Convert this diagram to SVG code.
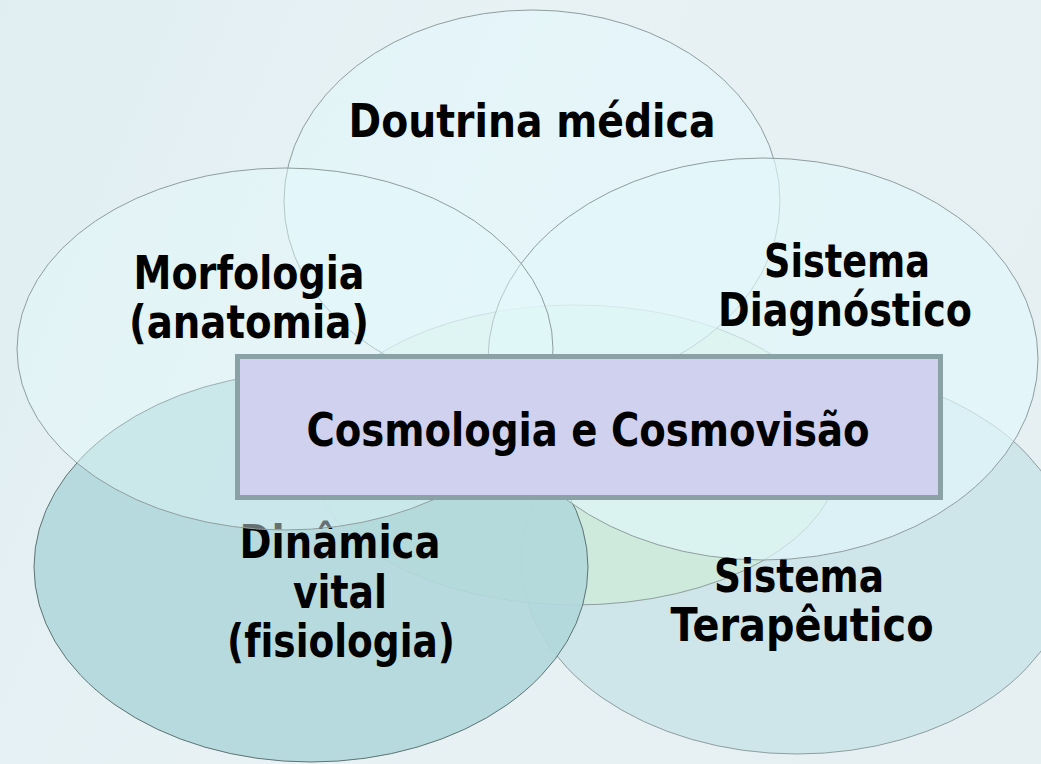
<svg xmlns="http://www.w3.org/2000/svg" width="1041" height="764" viewBox="0 0 1041 764">
<defs>
<linearGradient id="bg" x1="0" y1="0" x2="1" y2="0.3">
<stop offset="0" stop-color="#e0eef1"/>
<stop offset="0.5" stop-color="#e8f2f5"/>
<stop offset="1" stop-color="#e6f0f3"/>
</linearGradient>
</defs>
<style>
.lbl{font-family:"DejaVu Sans","Liberation Sans",sans-serif;font-weight:bold;font-size:46px;fill:#000;text-anchor:middle;font-variant-ligatures:none;font-feature-settings:"liga" 0}
.ell{stroke:#8e9e9f;stroke-width:1}
.light{fill:#e2f8fb}
</style>
<rect x="0" y="0" width="1041" height="764" fill="url(#bg)"/>
<g id="terapeutico">
<ellipse class="ell" cx="797" cy="561" rx="276" ry="193" fill="#c9e3e7" fill-opacity="0.85"/>
</g>
<g id="center-ellipse">
<ellipse class="ell" cx="575" cy="455" rx="265" ry="150" fill="#cdedd6" fill-opacity="0.7"/>
</g>
<g id="dinamica">
<ellipse cx="311" cy="567" rx="277" ry="195" fill="#b2d8db" fill-opacity="0.92" stroke="#5f7373" stroke-width="1"/>
<text class="lbl" x="340" y="558" textLength="201" lengthAdjust="spacingAndGlyphs">Dinâmica</text>
<text class="lbl" x="340" y="608" textLength="94" lengthAdjust="spacingAndGlyphs">vital</text>
<text class="lbl" x="341" y="657" textLength="228" lengthAdjust="spacingAndGlyphs">(fisiologia)</text>
</g>
<g id="doutrina">
<ellipse class="ell light" cx="532" cy="201" rx="248" ry="191" fill-opacity="0.5"/>
<text class="lbl" x="532" y="137" textLength="367" lengthAdjust="spacingAndGlyphs">Doutrina médica</text>
</g>
<g id="diagnostico">
<ellipse class="ell light" cx="763" cy="359" rx="275" ry="201" fill-opacity="0.65"/>
<text class="lbl" x="847" y="277" textLength="166" lengthAdjust="spacingAndGlyphs">Sistema</text>
<text class="lbl" x="845" y="326" textLength="254" lengthAdjust="spacingAndGlyphs">Diagnóstico</text>
</g>
<g id="morfologia">
<ellipse class="ell light" cx="285" cy="349" rx="268" ry="181" fill-opacity="0.45"/>
<text class="lbl" x="249" y="289" textLength="231" lengthAdjust="spacingAndGlyphs">Morfologia</text>
<text class="lbl" x="249" y="338" textLength="240" lengthAdjust="spacingAndGlyphs">(anatomia)</text>
</g>
<g id="terapeutico-label">
<text class="lbl" x="799" y="592" textLength="170" lengthAdjust="spacingAndGlyphs">Sistema</text>
<text class="lbl" x="802" y="641" textLength="263" lengthAdjust="spacingAndGlyphs">Terapêutico</text>
</g>
<g id="cosmologia">
<rect x="237.5" y="356.5" width="703" height="141" fill="#d0d0ef" stroke="#8aa2a5" stroke-width="5"/>
<text class="lbl" x="588" y="446" textLength="563" lengthAdjust="spacingAndGlyphs">Cosmologia e Cosmovisão</text>
</g>
<g id="connectors"/>
</svg>
